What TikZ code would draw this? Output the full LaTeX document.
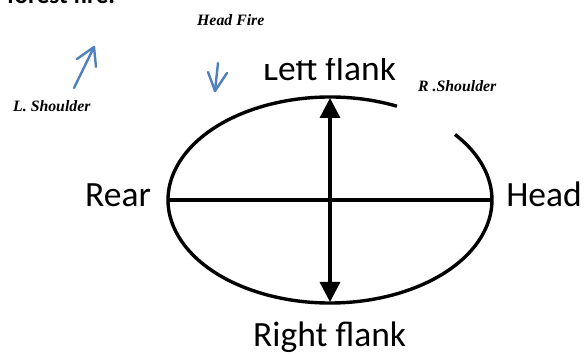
\documentclass[tikz,border=0pt]{standalone}
\usepackage{fontspec}
\setmainfont{Liberation Serif}
\newfontfamily\calib{Carlito}
\usetikzlibrary{arrows.meta,calc}
\definecolor{penblue}{RGB}{79,129,189}
\tikzset{
  biglabel/.style={inner sep=0pt, anchor=base west, font=\calib\fontsize{35.5}{40}\selectfont},
  smalllabel/.style={inner sep=0pt, anchor=base west, font=\bfseries\itshape\fontsize{15.8}{18}\selectfont},
  outline/.style={line width=3.4pt, black},
  penstroke/.style={line width=2.4pt, penblue, line cap=round, line join=round}
}
\begin{document}
\begin{tikzpicture}[x=1pt,y=1pt]
\useasboundingbox (0,0) rectangle (584,356);
\clip (0,0) rectangle (584,356);
% top partial caption
\node[inner sep=0pt, anchor=base west, font=\calib\bfseries\fontsize{25}{28}\selectfont] (cap) at (7,352) {forest fire.};
% ellipse with gap
\coordinate (ctr) at (330,156);
\coordinate (lft) at (168,156);
\coordinate (rgt) at (492,156);
\coordinate (top) at (330,258);
\coordinate (bot) at (330,54);
\draw[outline] ($(ctr)+({162*cos(65.6)},{103*sin(65.6)})$) arc[start angle=65.6, end angle=399.5, x radius=162, y radius=103];
\draw[outline] (lft) -- (rgt);
\draw[outline, {Triangle[width=20pt,length=20pt]}-{Triangle[width=20pt,length=20pt]}] (top) -- (bot);
% labels
\begin{scope}
\clip (250,250) -- (250,291) -- (330,298.5) -- (405,298.5) -- (405,250) -- cycle;
\node[biglabel] (lflank) at (263,275) {Left flank};
\end{scope}
\node[biglabel] (rear) at (85,149) {Rear};
\node[biglabel, anchor=base east] (head) at (582,149) {Head};
\node[biglabel] (rflank) at (253,9) {Right flank};
\node[smalllabel] (hfire) at (197,330) {Head Fire};
\node[smalllabel] (lsh) at (13,244) {L. Shoulder};
\node[smalllabel] (rsh) at (418,264) {R .Shoulder};
% blue hand-drawn arrows
\coordinate (a1s) at (74,268);
\coordinate (a1t) at (94,309);
\coordinate (a1l) at (77,297);
\coordinate (a1r) at (96,289);
\draw[penstroke] (a1s) -- (a1t);
\draw[penstroke] (a1l) -- (a1t) -- (a1r);
\coordinate (a2s) at (218,293);
\coordinate (a2t) at (215,265);
\coordinate (a2l) at (208,284);
\coordinate (a2r) at (227,283);
\draw[penstroke] (a2s) -- (a2t);
\draw[penstroke] (a2l) -- (a2t) -- (a2r);
\end{tikzpicture}
\end{document}
